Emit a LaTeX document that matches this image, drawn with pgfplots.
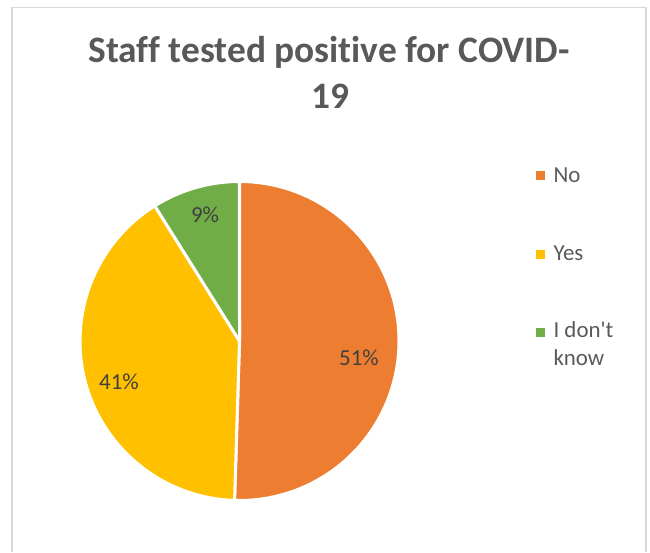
\documentclass[border=0pt]{standalone}
\usepackage{pgfplots}
\pgfplotsset{compat=1.18}
\usepackage{fontspec}
\setmainfont{Carlito}[Ligatures={NoCommon}]

\definecolor{pieorange}{HTML}{ED7D31}
\definecolor{pieyellow}{HTML}{FFC000}
\definecolor{piegreen}{HTML}{70AD47}
\definecolor{labelgray}{HTML}{404040}
\definecolor{titlegray}{HTML}{595959}
\definecolor{framegray}{HTML}{D9D9D9}

% shares (percent, as printed on the chart)
\def\vNo{51}
\def\vYes{41}
\def\vIdk{9}
\pgfmathsetmacro\total{\vNo+\vYes+\vIdk}
\pgfmathsetmacro\aA{90}
\pgfmathsetmacro\aB{\aA-360*(\vNo/\total)}
\pgfmathsetmacro\aC{\aB-360*(\vYes/\total)}
\pgfmathsetmacro\aD{\aC-360*(\vIdk/\total)}
\def\cx{239.5}
\def\cy{341}
\def\rad{159.5bp}

\begin{document}
\begin{tikzpicture}
\begin{axis}[
    width=650bp, height=552bp,
    scale only axis,
    hide axis,
    xmin=0, xmax=650,
    ymin=0, ymax=552,
    y dir=reverse,
    clip=false,
]
% page extent
\path (axis cs:0,0) rectangle (axis cs:650,552);
% chart frame
\draw[framegray, line width=1.3bp] (axis cs:12,552) -- (axis cs:12,7.5) -- (axis cs:646,7.5) -- (axis cs:646,552);

% title
\node[anchor=base, text=titlegray, font=\fontsize{37.5}{44}\selectfont\bfseries]
    at (axis cs:329,63) {Staff tested positive for COVID-};
\node[anchor=base, text=titlegray, font=\fontsize{37.5}{44}\selectfont\bfseries]
    at (axis cs:330,108) {19};

% slices
\filldraw[fill=pieorange, draw=white, line width=3bp, line join=round]
    (axis cs:\cx,\cy) -- ++(\aA:\rad) arc[start angle=\aA, end angle=\aB, radius=\rad] -- cycle;
\filldraw[fill=pieyellow, draw=white, line width=3bp, line join=round]
    (axis cs:\cx,\cy) -- ++(\aB:\rad) arc[start angle=\aB, end angle=\aC, radius=\rad] -- cycle;
\filldraw[fill=piegreen, draw=white, line width=3bp, line join=round]
    (axis cs:\cx,\cy) -- ++(\aC:\rad) arc[start angle=\aC, end angle=\aD, radius=\rad] -- cycle;

% data labels
\begin{scope}[every node/.style={text=labelgray, font=\fontsize{23}{27}\selectfont}]
\node at (axis cs:359,358) {51\%};
\node at (axis cs:119,382) {41\%};
\node at (axis cs:205,215) {9\%};
\end{scope}

% legend
\begin{scope}[every node/.style={text=titlegray, font=\fontsize{23}{28}\selectfont, anchor=west, align=left}]
\fill[pieorange] (axis cs:535.5,170.5) rectangle (axis cs:544.5,179.5);
\node at (axis cs:550,175) {No};
\fill[pieyellow] (axis cs:535.5,249.5) rectangle (axis cs:544.5,258.5);
\node at (axis cs:550,253) {Yes};
\fill[piegreen] (axis cs:535.5,327.5) rectangle (axis cs:544.5,336.5);
\node[anchor=north west] at (axis cs:550,318) {I don\textquotesingle t\\know};
\end{scope}
\end{axis}
\end{tikzpicture}
\end{document}
